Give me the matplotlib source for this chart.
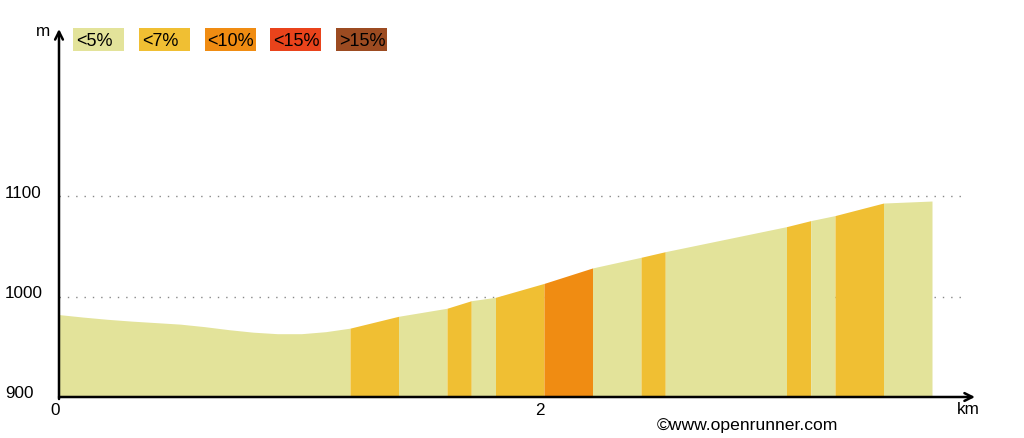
import matplotlib
matplotlib.use('Agg')
import matplotlib.pyplot as plt
import matplotlib.transforms as mtransforms
from matplotlib.patches import Rectangle
import numpy as np

plt.rcParams['font.family'] = ['Liberation Sans', 'DejaVu Sans']

# profil altimetrique (km, m)
distance = [0, 0.1, 0.2, 0.3, 0.4, 0.5, 0.6, 0.7, 0.8, 0.9, 1.0, 1.1, 1.2,
            1.4, 1.6, 1.7, 1.8, 2.0, 2.2, 2.4, 2.5, 3.0, 3.1, 3.2, 3.4, 3.6]
altitude = [982, 979.5, 977.3, 975.5, 974, 972.5, 970, 967, 964.5, 963, 963, 965, 968.5,
            980.3, 988.3, 995.8, 999.2, 1013, 1028.4, 1039, 1044.6, 1069.5, 1075.5, 1080.5, 1093, 1095]

# troncons de pente: debut, fin, classe
seg_debut = [0, 1.2, 1.4, 1.6, 1.7, 1.8, 2.0, 2.2, 2.4, 2.5, 3.0, 3.1, 3.2, 3.4]
seg_fin = [1.2, 1.4, 1.6, 1.7, 1.8, 2.0, 2.2, 2.4, 2.5, 3.0, 3.1, 3.2, 3.4, 3.6]
seg_classe = [0, 1, 0, 1, 0, 1, 2, 0, 1, 0, 1, 0, 1, 0]

classes = ['<5%', '<7%', '<10%', '<15%', '>15%']
couleurs = ['#E3E39A', '#F0BF33', '#F08C12', '#E9431B', '#9C4B21']

y_ticks = [900, 1000, 1100]
x_ticks = [0, 2]

W, H = 1024, 439
fig = plt.figure(figsize=(W / 100, H / 100), dpi=100)
ax = fig.add_axes([59 / W, 41 / H, 916 / W, 368 / H])
ax.set_xlim(0, 916 / 242.5)
ax.set_ylim(900, 900 + 368 / 1.005)
ax.axis('off')

d = np.array(distance)
a = np.array(altitude)

# lignes pointillees
ax.hlines([1000, 1100], 0, 3.72, colors='#888888', linestyles=(0, (1, 5)), linewidth=1, zorder=1)

# remplissage par troncon
for deb, fin, c in zip(seg_debut, seg_fin, seg_classe):
    m = (d >= deb - 1e-9) & (d <= fin + 1e-9)
    ax.fill_between(d[m], 900, a[m], color=couleurs[c], linewidth=0, zorder=2)

# axes avec fleches
ap = dict(arrowstyle='->', lw=1.8, color='black', shrinkA=0, shrinkB=0, mutation_scale=14)
ax.annotate('', xy=(ax.get_xlim()[1], 900), xytext=(0, 900), arrowprops=ap, annotation_clip=False, zorder=5)
ax.annotate('', xy=(0, ax.get_ylim()[1]), xytext=(0, 898), arrowprops=ap, annotation_clip=False, zorder=5)

fs = 12.3
off_y = mtransforms.ScaledTranslation(-54 / 100, 4 / 100, fig.dpi_scale_trans)
for v in y_ticks:
    ax.text(0, v, str(v), transform=ax.get_yaxis_transform() + off_y,
            ha='left', va='center', fontsize=fs, clip_on=False)
off_x = mtransforms.ScaledTranslation(-4 / 100, -5 / 100, fig.dpi_scale_trans)
for v in x_ticks:
    ax.text(v, 900, str(v), transform=ax.transData + off_x,
            ha='center', va='top', fontsize=fs, clip_on=False)

fig.text(43 / W, 1 - 32 / H, 'm', ha='center', va='center', fontsize=fs)
fig.text(968 / W, 1 - 410 / H, 'km', ha='center', va='center', fontsize=fs)

# legende
for i, (lab, col) in enumerate(zip(classes, couleurs)):
    x0 = 73 + i * 65.8
    fig.patches.append(Rectangle((x0 / W, 1 - 52 / H), 51 / W, 23 / H,
                                 transform=fig.transFigure, color=col, linewidth=0))
    fig.text((x0 + 3) / W, 1 - 41 / H, lab, ha='left', va='center', fontsize=13)

fig.text(657 / W, 1 - 426 / H, '\u00a9www.openrunner.com', ha='left', va='center', fontsize=12.6)

fig.savefig('out.png', dpi=100)
